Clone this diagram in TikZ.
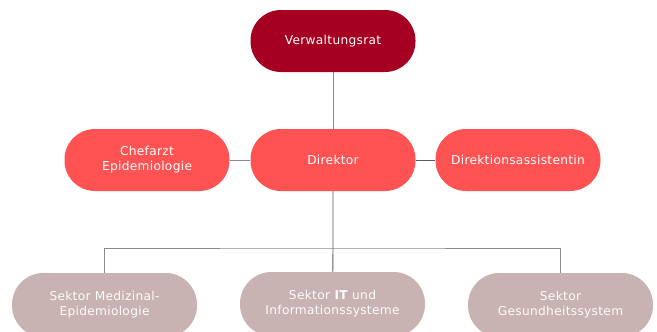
\documentclass[tikz,border=0pt]{standalone}
\usepackage{fontspec}
\setmainfont{DejaVu Sans}[LetterSpace=2.5]
\definecolor{darkred}{HTML}{A50021}
\definecolor{brightred}{HTML}{FF5252}
\definecolor{mauve}{HTML}{C8B2B2}
\definecolor{linegray}{HTML}{8A8A8A}
\definecolor{linedark}{HTML}{5A5A5A}
\begin{document}
\begin{tikzpicture}[x=1pt,y=-1pt,
  box/.style={rectangle, rounded corners=30.5pt, minimum width=165pt, minimum height=62pt,
    inner sep=0pt, align=center, text=white, font=\fontsize{12.2}{15}\selectfont},
  toptop/.style={box, fill=darkred},
  redbox/.style={box, fill=brightred},
  sektor/.style={box, fill=mauve, minimum width=185pt, minimum height=64pt, rounded corners=31.5pt, text=white!96!mauve},
  conn/.style={draw=linegray, line width=0.9pt},
  conndark/.style={draw=linedark, line width=0.9pt}]
\useasboundingbox (0,0) rectangle (657,332);
\node[toptop] (vr) at (333,41) {Verwaltungsrat};
\node[redbox] (chef) at (147,160) {Chefarzt\\Epidemiologie};
\node[redbox] (dir) at (333,160) {Direktor};
\node[redbox] (ass) at (518,160) {Direktionsassistentin};
\node[sektor] (s1) at (104.5,305) {Sektor Medizinal-\\Epidemiologie};
\node[sektor] (s2) at (332.5,304) {Sektor \textbf{IT} und\\Informationssysteme};
\node[sektor] (s3) at (560.5,305) {Sektor\\Gesundheitssystem};
\coordinate (j) at (333,248);
\draw[conn] (s1.north) |- (j) -| (s3.north);
\draw[conn] (vr) -- (dir);
\draw[conn] (chef) -- (dir);
\draw[conndark] (dir) -- (j) -- (s2);
\draw[conndark] (dir) -- (ass);
\end{tikzpicture}
\end{document}
